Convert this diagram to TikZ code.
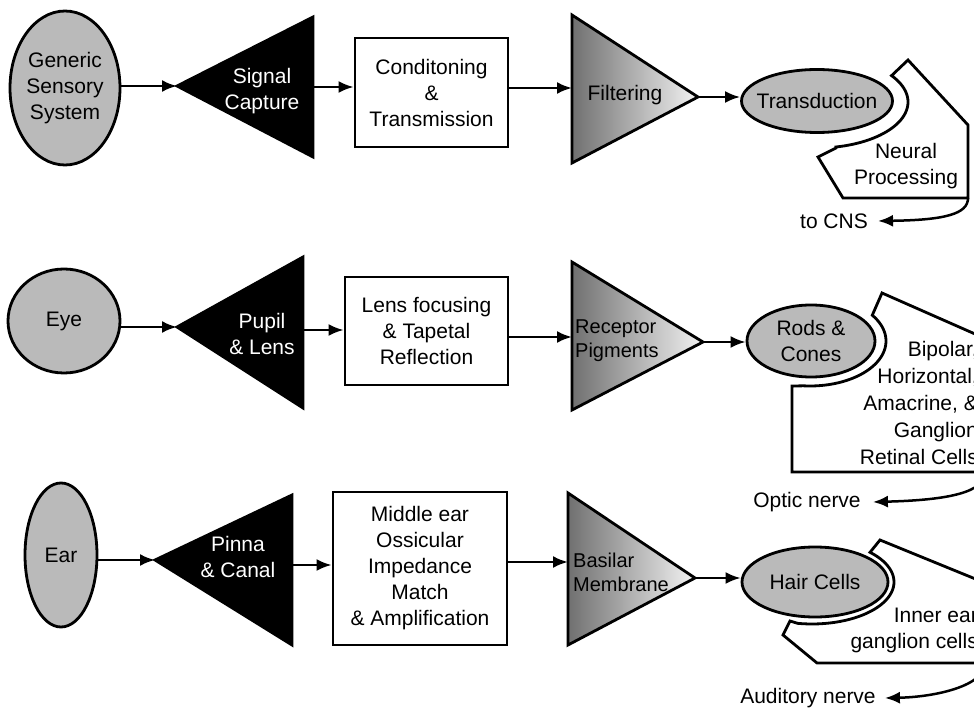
\documentclass[tikz,border=0pt]{standalone}
\usepackage{fontspec}
\setmainfont{Liberation Sans}
\usetikzlibrary{shapes.geometric,arrows.meta,calc}
\newcommand{\dgtxt}{\fontsize{21}{26}\selectfont}
\newcommand{\dgsmall}{\fontsize{20}{24}\selectfont}
\begin{document}
\begin{tikzpicture}[x=1pt,y=-1pt,
  outl/.style={draw=black,line width=2.8pt,line join=miter},
  ell/.style={ellipse,outl,fill=black!27,inner sep=-10pt,font=\dgtxt,align=center,text=black},
  box/.style={rectangle,outl,fill=white,align=center,font=\dgtxt,inner sep=0pt},
  blk/.style={outl,fill=black},
  shd/.style={outl,left color=black!56,right color=black!5},
  arr/.style={line width=2.5pt,-{Latex[length=15pt,width=12pt]}},
  lbl/.style={font=\dgtxt,align=center,inner sep=0pt},
  wlbl/.style={lbl,text=white},
  tlbl/.style={font=\dgsmall,align=left,anchor=west,inner sep=0pt},
  nerve/.style={line width=2.5pt,-{Latex[length=15pt,width=12pt]}},
]
\useasboundingbox (0,0) rectangle (974,708);
\clip (0,0) rectangle (974,708);
\fill[white] (0,0) rectangle (974,708);

% ---------------- Row 1 ----------------
\node[ell, minimum width=110pt, minimum height=154pt] (gen) at (65,88) {Generic\\Sensory\\System};
\coordinate (scT) at (177,86);
\coordinate (scR) at (313,87);
\filldraw[blk] (scT) -- (313,17) -- (313,157) -- cycle;
\node[wlbl] (sc) at (262,91) {Signal\\Capture};
\node[box, minimum width=153pt, minimum height=109pt] (cond) at (431.5,92.5) {Conditoning\\\&\\Transmission};
\coordinate (fL) at (572,88);
\coordinate (fT) at (698,97);
\filldraw[shd] (572,15) -- (fT) -- (572,163) -- cycle;
\node[lbl] (filt) at (625,95) {Filtering};
\filldraw[outl, fill=white] (836,148) -- plot[domain=0:1,samples=40] ({817+91*cos(78-113*\x)},{102+46*sin(78-113*\x)}) -- (908,60) -- (968,125) -- (968,198) -- (843,198) -- (818,157) -- cycle;
\node[ell, minimum width=151pt, minimum height=63pt] (trans) at (817,101) {Transduction};
\node[lbl] (np) at (906,166) {Neural\\Processing};
\coordinate (npC) at (968,198);
\node[lbl] (cns) at (834,221) {to CNS};

\draw[arr] (scT -| gen.east) -- (scT);
\draw[arr] (scR) -- (scR -| cond.west);
\draw[arr] (cond.east |- fL) -- (fL);
\draw[arr] (fT) -- (fT -| trans.west);
\draw[nerve] (npC) .. controls (968,214) and (945,220) .. ([xshift=10pt]cns.east);

% ---------------- Row 2 ----------------
\node[ell, minimum width=112pt, minimum height=104pt] (eye) at (64,321) {Eye};
\coordinate (plT) at (177,327);
\coordinate (plR) at (303,330);
\filldraw[blk] (plT) -- (303,257) -- (303,408) -- cycle;
\node[wlbl] (pl) at (262,334) {Pupil\\\& Lens};
\node[box, minimum width=163pt, minimum height=108pt] (lens) at (426.5,331) {Lens focusing\\\& Tapetal\\Reflection};
\coordinate (rL) at (572,337);
\coordinate (rT) at (703,342);
\filldraw[shd] (572,262) -- (rT) -- (572,410) -- cycle;
\node[tlbl] (rp) at (575,341) {Receptor\\Pigments};
\filldraw[outl, fill=white] (792,472) -- (792,386) -- plot[domain=0:1,samples=40] ({810+76*cos(95-130*\x)},{341+45*sin(95-130*\x)}) -- (882,293) -- (1000,345) -- (1000,472) -- cycle;
\node[ell, minimum width=128pt, minimum height=72pt] (rods) at (811,341) {Rods \&\\Cones};
\node[lbl, align=right, anchor=east, font=\fontsize{21}{27}\selectfont] (bip) at (978,403) {Bipolar,\\Horizontal,\\Amacrine, \&\\Ganglion\\Retinal Cells};
\coordinate (bipC) at (985,472);
\node[lbl] (opt) at (807,502) {Optic nerve};

\draw[arr] (plT -| eye.east) -- (plT);
\draw[arr] (plR) -- (plR -| lens.west);
\draw[arr] (lens.east |- rL) -- (rL);
\draw[arr] (rT) -- (rT -| rods.west);
\draw[nerve] (bipC) .. controls (985,492) and (950,500) .. ([xshift=12pt]opt.east);

% ---------------- Row 3 ----------------
\node[ell, minimum width=72pt, minimum height=144pt] (ear) at (61,555) {Ear};
\coordinate (pnT) at (155,560);
\coordinate (pnR) at (292,565);
\filldraw[blk] (pnT) -- (292,495) -- (292,645) -- cycle;
\node[wlbl] (pc) at (238,557) {Pinna\\\& Canal};
\node[box, minimum width=174pt, minimum height=153pt] (mid) at (420,568.5) {Middle ear\\Ossicular\\Impedance\\Match\\\& Amplification};
\coordinate (bL) at (568,562);
\coordinate (bT) at (695,578);
\filldraw[shd] (568,493) -- (bT) -- (568,645) -- cycle;
\node[tlbl] (bm) at (573,572) {Basilar\\Membrane};
\filldraw[outl, fill=white] (817,663) -- (783,635) -- (790,621) -- plot[domain=0:1,samples=40] ({812+82*cos(100-145*\x)},{582+42*sin(100-145*\x)}) -- (880,540) -- (1000,589) -- (1000,663) -- cycle;
\node[ell, minimum width=146pt, minimum height=70pt] (hair) at (815,582) {Hair Cells};
\node[lbl, align=right, anchor=east] (ie) at (978,630) {Inner ear\\ganglion cells};
\coordinate (ieC) at (985,663);
\node[lbl] (aud) at (808,698) {Auditory nerve};

\draw[arr] (pnT -| ear.east) -- (pnT);
\draw[arr] (pnR) -- (pnR -| mid.west);
\draw[arr] (mid.east |- bL) -- (bL);
\draw[arr] (bT) -- (bT -| hair.west);
\draw[nerve] (ieC) .. controls (985,686) and (935,697) .. ([xshift=9pt]aud.east);
\end{tikzpicture}
\end{document}
